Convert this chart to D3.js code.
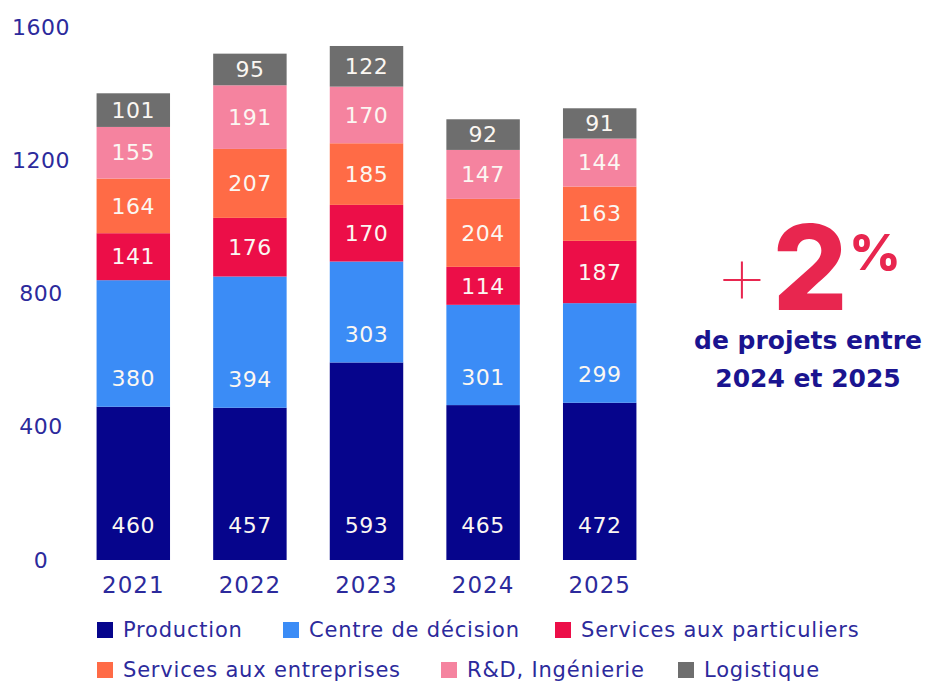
<!DOCTYPE html>
<html>
<head>
<meta charset="utf-8">
<script src="https://cdn.jsdelivr.net/npm/d3@7"></script>
<style>
  body { margin: 0; background: #fff; }
  svg { font-family: "DejaVu Sans", Inter, sans-serif; }
</style>
</head>
<body>
<svg id="chart" width="932" height="684"></svg>
<script>
const years = ["2021", "2022", "2023", "2024", "2025"];
const series = ["Production", "Centre de décision", "Services aux particuliers",
                "Services aux entreprises", "R&D, Ingénierie", "Logistique"];
const production   = [460, 457, 593, 465, 472];
const centre       = [380, 394, 303, 301, 299];
const particuliers = [141, 176, 170, 114, 187];
const entreprises  = [164, 207, 185, 204, 163];
const rd           = [155, 191, 170, 147, 144];
const logistique   = [101, 95, 122, 92, 91];
const yTicks = [0, 400, 800, 1200, 1600];
const colors = ["#06058c", "#3b8cf6", "#ec0e48", "#ff6b46", "#f5839f", "#6e6e6e"];

const textBlue = "#2c2a9c";
const allValues = [production, centre, particuliers, entreprises, rd, logistique];

// rows for the stack
const rows = years.map((y, i) => {
  const r = { year: y };
  series.forEach((s, j) => r[s] = allValues[j][i]);
  return r;
});
const stacked = d3.stack().keys(series)(rows);

const svg = d3.select("#chart");

const x = d3.scaleBand().domain(years).range([75, 658]).paddingInner(0.37).paddingOuter(0.185);
const y = d3.scaleLinear().domain([0, 1600]).range([560, 27]);

// y labels
svg.append("g").selectAll("text")
  .data(yTicks).join("text")
  .attr("x", 41)
  .attr("y", d => y(d))
  .attr("dy", "0.35em")
  .attr("text-anchor", "middle")
  .attr("fill", textBlue)
  .style("font-size", "22px")
  .style("letter-spacing", "0.5px")
  .text(d => d);

// bars
const layers = svg.append("g").selectAll("g")
  .data(stacked).join("g")
  .attr("fill", (d, i) => colors[i]);

layers.selectAll("rect")
  .data(d => d).join("rect")
  .attr("x", d => x(d.data.year))
  .attr("width", x.bandwidth())
  .attr("y", d => y(d[1]))
  .attr("height", d => y(d[0]) - y(d[1]));

// value labels
stacked.forEach((layer, i) => {
  svg.append("g").selectAll("text")
    .data(layer).join("text")
    .attr("x", d => x(d.data.year) + x.bandwidth() / 2)
    .attr("y", d => {
      if (i === 0) return y(d[0]) - 35;   // production: near bottom
      if (i === 1) return y(d[0]) - 28;   // centre: lower part
      return (y(d[0]) + y(d[1])) / 2;
    })
    .attr("dy", "0.35em")
    .attr("text-anchor", "middle")
    .attr("fill", "#fbf7f2")
    .style("font-size", "22px")
    .style("letter-spacing", "0.5px")
    .text(d => d[1] - d[0]);
});

// x labels
svg.append("g").selectAll("text")
  .data(years).join("text")
  .attr("x", d => x(d) + x.bandwidth() / 2)
  .attr("y", 585)
  .attr("dy", "0.35em")
  .attr("text-anchor", "middle")
  .attr("fill", textBlue)
  .style("font-size", "23px")
  .style("letter-spacing", "1px")
  .text(d => d);

// legend
const legendPos = [
  [97, 630], [283, 630], [555, 630],
  [97, 670], [441, 670], [678, 670]
];
const legend = svg.append("g").selectAll("g")
  .data(series).join("g")
  .attr("transform", (d, i) => `translate(${legendPos[i][0]},${legendPos[i][1]})`);
legend.append("rect")
  .attr("x", 0).attr("y", -8).attr("width", 16).attr("height", 16)
  .attr("fill", (d, i) => colors[i]);
legend.append("text")
  .attr("x", 26).attr("dy", "0.35em")
  .attr("fill", textBlue)
  .style("font-size", "21px")
  .style("letter-spacing", "0.8px")
  .text(d => d);

// annotation
const ann = svg.append("g");
ann.append("text")
  .attr("x", 742).attr("y", 306)
  .attr("text-anchor", "middle")
  .attr("fill", "#e8264f")
  .style("font-family", "Inter, sans-serif")
  .style("font-size", "90px")
  .style("font-weight", 100)
  .text("+");
ann.append("text")
  .attr("x", 810).attr("y", 310)
  .attr("text-anchor", "middle")
  .attr("fill", "#e8264f")
  .style("font-family", "Inter, sans-serif")
  .style("font-size", "118px")
  .style("font-weight", 800)
  .text("2");
ann.append("text")
  .attr("x", 875).attr("y", 270)
  .attr("text-anchor", "middle")
  .attr("fill", "#e8264f")
  .style("font-family", "Inter, sans-serif")
  .style("font-size", "50px")
  .style("font-weight", 800)
  .text("%");
ann.append("text")
  .attr("x", 808).attr("y", 349)
  .attr("text-anchor", "middle")
  .attr("fill", "#1a1490")
  .style("font-size", "25px")
  .style("font-weight", "bold")
  .text("de projets entre");
ann.append("text")
  .attr("x", 808).attr("y", 387)
  .attr("text-anchor", "middle")
  .attr("fill", "#1a1490")
  .style("font-size", "25px")
  .style("font-weight", "bold")
  .text("2024 et 2025");
</script>
</body>
</html>
